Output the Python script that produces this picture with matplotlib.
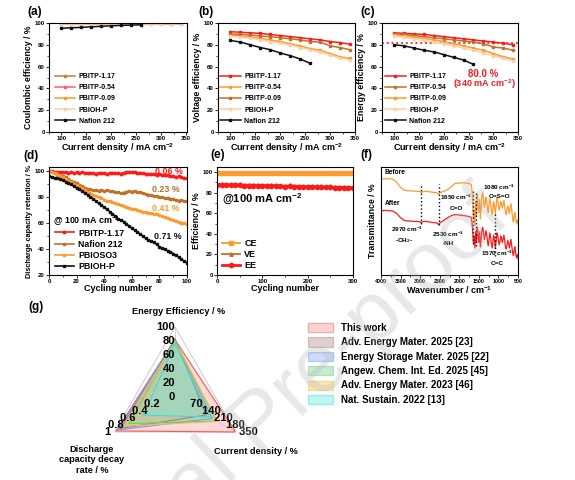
import matplotlib
matplotlib.use('Agg')
import matplotlib.pyplot as plt
import numpy as np
from matplotlib.ticker import AutoMinorLocator, MultipleLocator
from matplotlib.patches import Patch

plt.rcParams['font.family'] = ['Liberation Sans', 'DejaVu Sans']
plt.rcParams['font.weight'] = 'bold'
plt.rcParams['axes.labelweight'] = 'bold'
plt.rcParams['mathtext.fontset'] = 'custom'
plt.rcParams['mathtext.rm'] = 'Liberation Sans:bold'
plt.rcParams['mathtext.default'] = 'regular'

# ---------------- data ----------------
# (a)-(c) rate performance
cd = [100, 120, 140, 160, 180, 200, 220, 240, 260, 280, 300, 320, 340]
cd_naf = [100, 120, 140, 160, 180, 200, 220, 240, 260]

ce_117 = [99.5, 99.5, 99.6, 99.5, 99.5, 99.6, 99.5, 99.6, 99.5, 99.6, 99.6, 99.5, 99.6]
ce_054 = [99.3, 99.4, 99.4, 99.3, 99.4, 99.4, 99.5, 99.4, 99.4, 99.5, 99.4, 99.5, 99.4]
ce_009 = [99.6, 99.6, 99.7, 99.6, 99.6, 99.7, 99.6, 99.7, 99.7, 99.6, 99.7, 99.7, 99.6]
ce_pbioh = [99.1, 99.2, 99.2, 99.3, 99.2, 99.3, 99.3, 99.3, 99.4, 99.3, 99.4, 99.4, 99.4]
ce_naf = [95.2, 95.6, 96.0, 96.5, 97.0, 97.4, 97.8, 98.1, 98.3]

ve_117 = [92.0, 91.5, 91.0, 90.5, 89.5, 88.5, 87.5, 86.5, 85.5, 84.5, 83.0, 82.0, 80.5]
ve_054 = [89.0, 88.0, 87.0, 86.0, 84.5, 83.0, 81.0, 79.0, 76.5, 75.0, 72.0, 69.0, 67.5]
ve_009 = [90.0, 89.5, 89.0, 88.0, 87.5, 86.5, 85.5, 84.5, 83.0, 82.5, 79.0, 77.5, 75.5]
ve_pbioh = [88.0, 87.0, 86.0, 84.5, 83.0, 81.5, 79.5, 77.5, 75.5, 73.0, 70.5, 68.0, 66.0]
ve_naf = [84.0, 82.5, 80.0, 77.5, 75.5, 72.5, 70.0, 67.0, 63.0]

ee_117 = [91.0, 90.5, 90.0, 89.5, 88.5, 87.5, 86.5, 85.5, 84.5, 83.5, 82.5, 81.5, 80.0]
ee_054 = [90.0, 89.5, 88.5, 87.5, 86.5, 85.5, 84.5, 83.5, 82.5, 81.0, 78.0, 77.0, 75.0]
ee_009 = [89.0, 88.0, 87.0, 86.0, 84.5, 83.0, 81.0, 79.0, 77.0, 75.0, 72.0, 69.0, 67.0]
ee_pbioh = [88.0, 87.0, 85.5, 84.0, 82.5, 81.0, 79.0, 77.0, 75.0, 72.5, 70.0, 67.5, 65.0]
ee_naf = [80.0, 79.0, 77.0, 75.0, 73.5, 71.0, 68.5, 66.0, 62.0]
ee_ref = 82

# (d) capacity retention
cyc_d = list(range(0, 101, 2))
ret_117 = [100, 99.6, 99.3, 99.0, 99.4, 98.8, 99.1, 98.6, 98.9, 98.4, 98.8, 98.5, 98.9, 98.3, 98.6, 98.2,
           98.5, 98.0, 98.4, 98.1, 98.5, 97.9, 98.3, 98.6, 98.2, 98.4, 98.0, 98.6, 98.9, 99.2, 98.8, 99.0,
           98.5, 98.7, 98.2, 98.0, 97.6, 97.9, 97.3, 97.0, 97.4, 96.8, 97.1, 96.5, 96.0, 95.8, 95.4, 95.7,
           95.0, 94.6, 94.3]
ret_naf = [100, 99.5, 98.6, 97.8, 97.0, 96.1, 95.0, 93.8, 92.5, 91.6, 90.8, 89.5, 88.4, 87.2, 86.4, 85.8,
           85.2, 85.6, 84.9, 85.3, 84.7, 85.0, 84.3, 84.6, 83.9, 83.5, 83.0, 83.4, 84.0, 84.5, 84.1, 84.6,
           84.0, 83.6, 82.8, 82.2, 81.8, 81.3, 81.0, 80.4, 80.0, 79.6, 79.2, 78.8, 78.1, 78.5, 77.6, 77.2,
           77.5, 76.9, 76.6]
ret_so3 = [100, 99.4, 98.5, 97.4, 96.2, 95.0, 93.8, 92.5, 91.2, 90.0, 88.9, 87.8, 86.6, 85.3, 84.1, 82.8,
           81.6, 80.5, 79.6, 78.8, 78.0, 77.2, 76.5, 75.8, 75.0, 74.3, 73.5, 72.9, 72.4, 71.8, 71.0, 70.4,
           69.9, 69.5, 68.8, 68.3, 67.9, 67.4, 67.0, 66.5, 66.0, 65.1, 64.5, 63.8, 63.0, 62.3, 61.6, 60.9,
           60.2, 59.6, 59.2]
ret_pbioh = [95.8, 95.2, 94.6, 94.9, 93.8, 93.0, 91.7, 90.5, 89.6, 88.2, 87.0, 85.9, 84.4, 83.0, 81.6, 80.0,
             78.5, 76.9, 75.2, 73.6, 72.0, 70.4, 68.7, 67.1, 65.0, 63.2, 62.0, 61.1, 59.4, 57.6, 55.9, 54.5,
             53.0, 51.6, 49.8, 48.2, 46.9, 46.0, 45.1, 43.5, 41.8, 40.6, 39.8, 38.5, 37.6, 36.4, 35.1, 33.8,
             32.0, 30.6, 29.5]
decay_txt = ['0.06 %', '0.23 %', '0.41 %', '0.71 %']

# (e) long cycling
cyc_e = list(range(0, 301, 10))
e_ce = [99.2, 99.3, 99.2, 99.4, 99.3, 99.2, 99.3, 99.4, 99.3, 99.2, 99.3, 99.3, 99.4, 99.2, 99.3, 99.3,
        99.2, 99.4, 99.3, 99.3, 99.2, 99.3, 99.4, 99.3, 99.2, 99.3, 99.3, 99.4, 99.3, 99.2, 99.3]
e_ve = [88.6, 88.5, 88.4, 88.2, 88.3, 88.0, 87.9, 87.8, 87.9, 87.6, 87.5, 87.4, 87.5, 87.2, 87.0, 86.9,
        87.1, 86.8, 86.7, 86.6, 86.4, 86.5, 86.3, 86.2, 86.0, 86.1, 85.9, 85.7, 85.8, 85.5, 85.4]
e_ee = [87.8, 87.7, 87.5, 87.4, 87.5, 87.2, 87.0, 86.9, 87.0, 86.8, 86.6, 86.5, 86.6, 86.3, 86.1, 86.0,
        86.2, 85.9, 85.8, 85.7, 85.5, 85.6, 85.4, 85.3, 85.1, 85.2, 85.0, 84.8, 84.9, 84.6, 84.5]

# (f) FTIR
wn = [4000, 3900, 3800, 3700, 3600, 3500, 3400, 3300, 3200, 3100, 3000, 2970, 2940, 2850, 2750, 2650,
      2560, 2530, 2500, 2400, 2300, 2200, 2100, 2000, 1900, 1800, 1740] + list(range(1700, 499, -20))
ir_before = [89, 89, 89.2, 88.8, 86, 81, 78.5, 78, 77.8, 77.5, 77.2, 75.8, 77, 77.5, 77, 76.5,
             76, 74.5, 76, 77.5, 79, 82, 85, 85, 85.5, 85, 84.5,
             84, 80, 70, 52, 60, 46, 68, 55, 75, 66, 58, 70, 52, 62, 74, 76, 70, 63, 66, 72, 69, 62, 58,
             65, 71, 67, 60, 56, 62, 68, 63, 56, 63, 72, 70, 64, 60, 63, 68, 66, 62, 65, 69, 64, 58, 56,
             60, 64, 61, 57, 62, 66, 60, 53, 49, 54, 58, 52, 48, 51, 47]
ir_after = [59.5, 59.8, 59.6, 59.2, 57, 53, 50.5, 50, 49.8, 49.5, 49.3, 48, 49.5, 49.6, 49, 48.5,
            48, 46.5, 48, 50.5, 53, 55, 56, 55.5, 55, 54.5, 54,
            53.5, 50, 42, 30, 36, 25, 40, 30, 44, 38, 30, 40, 26, 34, 42, 44, 39, 33, 36, 41, 38, 31, 27,
            33, 39, 35, 29, 25, 31, 37, 32, 25, 31, 39, 37, 32, 28, 31, 36, 34, 30, 33, 37, 32, 26, 24,
            28, 32, 29, 25, 29, 33, 27, 21, 18, 23, 26, 20, 16, 19, 15]
peak_wn = [2970, 2530, 1650, 1570, 1080]
peak_lo = [47.5, 46, 29, 27, 18]
peak_hi = [83, 84, 78, 78, 58]

# (g) radar
radar_names = ['This work', 'Adv. Energy Mater. 2025 [23]', 'Energy Storage Mater. 2025 [22]',
               'Angew. Chem. Int. Ed. 2025 [45]', 'Adv. Energy Mater. 2023 [46]', 'Nat. Sustain. 2022 [13]']
radar_ee = [82, 83, 81, 80, 78, 76]
radar_cd = [350, 180, 215, 240, 245, 200]
radar_decay = [0.97, 0.90, 0.94, 0.76, 0.83, 0.52]
radar_edge = ['#ff5555', '#a88080', '#6f9ff0', '#5fcf85', '#f2c030', '#30e0e0']
radar_fill = ['#ff9d9d', '#b89898', '#8fb4f2', '#7fd49c', '#f5cf6a', '#70ecec']
ee_ticks = [0, 20, 40, 60, 80, 100]
cd_ticks = [70, 140, 210, 280, 350]
cd_tick_text = ['70', '140', '210', '180', '350']
decay_ticks = [0.2, 0.4, 0.6, 0.8, 1]

RED = '#ff1a1a'
ORANGE = '#ff9a2e'
BROWN = '#c0702a'
PEACH = '#ffd0a6'
BLACK = '#111111'

W, H = 575, 480
fig = plt.figure(figsize=(W / 100, H / 100), dpi=100)


def rect(l, t, r, b):
    return [l / W, 1 - b / H, (r - l) / W, (b - t) / H]


def style(ax):
    for s in ax.spines.values():
        s.set_linewidth(0.8)
    ax.tick_params(which='major', length=2, width=0.6, labelsize=4.3, pad=1)
    ax.tick_params(which='minor', length=1.2, width=0.5)
    ax.xaxis.set_minor_locator(AutoMinorLocator(2))
    ax.yaxis.set_minor_locator(AutoMinorLocator(2))


def leg(ax, x, y, fs, hl=3.0, ls=0.6):
    ax.legend(loc='upper left', bbox_to_anchor=(x, y), frameon=False, fontsize=fs, handlelength=hl,
              handletextpad=0.5, labelspacing=ls, borderpad=0, borderaxespad=0)


cd_label = 'Current density / mA cm$^{-2}$'
lk = dict(lw=1.1, marker='s', ms=2.0)

# ---- (a)
ax = fig.add_axes(rect(49, 23, 187, 132))
ax.plot(cd, ce_117, color='#cd7a3a', label='PBITP-1.17', **lk)
ax.plot(cd, ce_054, color='#ff5a6a', label='PBITP-0.54', **lk)
ax.plot(cd, ce_009, color=ORANGE, label='PBITP-0.09', **lk)
ax.plot(cd, ce_pbioh, color=PEACH, label='PBIOH-P', **lk)
ax.plot(cd_naf, ce_naf, color=BLACK, label='Nafion 212', **lk)
ax.set_xlim(75, 352)
ax.set_ylim(0, 100)
ax.xaxis.set_major_locator(MultipleLocator(50))
ax.yaxis.set_major_locator(MultipleLocator(20))
style(ax)
ax.set_xlabel(cd_label, fontsize=6.5, labelpad=0)
ax.set_ylabel('Coulombic efficiency / %', fontsize=6.3, labelpad=1)
leg(ax, 0.04, 0.54, 5.0)

# ---- (b)
ax = fig.add_axes(rect(218, 23, 355, 132))
ax.plot(cd, ve_117, color=RED, label='PBITP-1.17', **lk)
ax.plot(cd, ve_054, color=ORANGE, label='PBITP-0.54', **lk)
ax.plot(cd, ve_009, color=BROWN, label='PBITP-0.09', **lk)
ax.plot(cd, ve_pbioh, color=PEACH, label='PBIOH-P', **lk)
ax.plot(cd_naf, ve_naf, color=BLACK, label='Nafion 212', **lk)
ax.set_xlim(75, 350)
ax.set_ylim(0, 100)
ax.xaxis.set_major_locator(MultipleLocator(50))
ax.yaxis.set_major_locator(MultipleLocator(20))
style(ax)
ax.set_xlabel(cd_label, fontsize=6.5, labelpad=0)
ax.set_ylabel('Voltage efficiency / %', fontsize=6.3, labelpad=1)
leg(ax, 0.015, 0.54, 5.0)

# ---- (c)
ax = fig.add_axes(rect(382, 23, 518, 132))
ax.axhline(ee_ref, color=RED, ls=':', lw=1.3)
ax.plot(cd, ee_117, color=RED, label='PBITP-1.17', **lk)
ax.plot(cd, ee_054, color=BROWN, label='PBITP-0.54', **lk)
ax.plot(cd, ee_009, color=ORANGE, label='PBITP-0.09', **lk)
ax.plot(cd, ee_pbioh, color=PEACH, label='PBIOH-P', **lk)
ax.plot(cd_naf, ee_naf, color=BLACK, label='Nafion 212', **lk)
ax.text(280, 53, '80.0 %', color=RED, fontsize=7, ha='center', va='center')
ax.text(282, 44, '(340 mA cm$^{-2}$)', color=RED, fontsize=6.5, ha='center', va='center')
ax.set_xlim(75, 350)
ax.set_ylim(0, 100)
ax.xaxis.set_major_locator(MultipleLocator(50))
ax.yaxis.set_major_locator(MultipleLocator(20))
style(ax)
ax.set_xlabel(cd_label, fontsize=6.5, labelpad=0)
ax.set_ylabel('Energy efficiency / %', fontsize=6.3, labelpad=1)
leg(ax, 0.02, 0.54, 5.0)

# ---- (d)
ax = fig.add_axes(rect(49, 167, 187, 275))
dk = dict(lw=1.2, ms=1.8)
ax.plot(cyc_d, ret_117, color=RED, marker='o', label='PBITP-1.17', **dk)
ax.plot(cyc_d, ret_naf, color=BROWN, marker='s', label='Nafion 212', **dk)
ax.plot(cyc_d, ret_so3, color=ORANGE, marker='s', label='PBIOSO3', **dk)
ax.plot(cyc_d, ret_pbioh, color=BLACK, marker='s', label='PBIOH-P', **dk)
for txt, (xx, yy), c in zip(decay_txt, [(87, 99.5), (85, 86), (85, 71), (86, 49.5)],
                            [RED, BROWN, ORANGE, BLACK]):
    ax.text(xx, yy, txt, color=c, fontsize=6.4, ha='center', va='center')
ax.text(3, 61, '@ 100 mA cm$^{-2}$', fontsize=6.4, ha='left', va='center')
ax.set_xlim(0, 100)
ax.set_ylim(20, 103)
ax.xaxis.set_major_locator(MultipleLocator(20))
ax.yaxis.set_major_locator(MultipleLocator(20))
style(ax)
ax.set_xlabel('Cycling number', fontsize=6.5, labelpad=0)
ax.set_ylabel('Discharge capacity retention / %', fontsize=5.3, labelpad=1)
leg(ax, 0.04, 0.43, 6.3, hl=2.2, ls=0.25)

# ---- (e)
ax = fig.add_axes(rect(217, 167, 353, 275))
ax.plot(cyc_e, e_ce, color=ORANGE, marker='s', lw=1.3, ms=2.5, label='CE')
ax.plot(cyc_e, e_ve, color=BROWN, marker='^', lw=1.3, ms=2.5, label='VE')
ax.plot(cyc_e, e_ee, color=RED, marker='o', lw=2.0, ms=3.0, label='EE')
ax.text(11, 73, '@100 mA cm$^{-2}$', fontsize=8, ha='left', va='center')
ax.set_xlim(0, 300)
ax.set_ylim(0, 105)
ax.xaxis.set_major_locator(MultipleLocator(100))
ax.yaxis.set_major_locator(MultipleLocator(20))
style(ax)
ax.set_xlabel('Cycling number', fontsize=6.5, labelpad=0)
ax.set_ylabel('Efficiency / %', fontsize=6.3, labelpad=1)
leg(ax, 0.035, 0.33, 6.5, hl=2.0, ls=0.2)

# ---- (f)
ax = fig.add_axes(rect(381, 167, 518, 275))
ax.plot(wn, ir_before, color=ORANGE, lw=0.9)
ax.plot(wn, ir_after, color=RED, lw=0.9)
ax.vlines(peak_wn, peak_lo, peak_hi, colors='k', linestyles=':', lw=1.0)
fk = dict(fontsize=4.6, ha='center', va='center')
ax.text(3900, 95, 'Before', ha='left', va='center', fontsize=4.8)
ax.text(3900, 66, 'After', ha='left', va='center', fontsize=4.8)
ax.text(3334, 42, '2970 cm$^{-1}$', **fk)
ax.text(3420, 32, '-CH$_2$-', **fk)
ax.text(2290, 37.5, '2530 cm$^{-1}$', **fk)
ax.text(2290, 29, '-NH', **fk)
ax.text(2080, 72, '1650 cm$^{-1}$', **fk)
ax.text(2080, 62, 'C=O', **fk)
ax.text(980, 81, '1080 cm$^{-1}$', **fk)
ax.text(980, 72.5, 'O=S=O', **fk)
ax.text(1030, 20, '1570 cm$^{-1}$', **fk)
ax.text(1030, 11, 'C=C', **fk)
ax.set_xlim(4000, 500)
ax.set_ylim(0, 100)
ax.xaxis.set_major_locator(MultipleLocator(500))
style(ax)
ax.set_yticks([])
ax.tick_params(axis='x', labelsize=3.8)
ax.set_xlabel('Wavenumber / cm$^{-1}$', fontsize=6.5, labelpad=0)
ax.set_ylabel('Transmittance / %', fontsize=6.3, labelpad=3)

# ---- (g) radar
cx, cy, R = 175, 397, 70
ax = fig.add_axes(rect(cx - R, cy - R, cx + R, cy + R), polar=True)
theta = np.deg2rad([90, 330, 210])
ax.set_ylim(0, 1)
ax.axis('off')
ax.plot(np.append(theta, theta[0]), [1, 1, 1, 1], color='#d0d0d0', lw=0.8)
for t in theta:
    ax.plot([t, t], [0, 1], color='#d0d0d0', lw=0.6)
for i in range(len(radar_names)):
    r = [radar_ee[i] / 100, radar_cd[i] / 350, radar_decay[i] / 1]
    ax.fill(np.append(theta, theta[0]), r + [r[0]], facecolor=radar_fill[i], alpha=0.38,
            edgecolor='none', zorder=2)
    ax.plot(np.append(theta, theta[0]), r + [r[0]], color=radar_edge[i], lw=0.8, zorder=3)
for v in ee_ticks:
    ax.text(theta[0], v / 100, str(v), fontsize=8, ha='right', va='center', zorder=5)
for v, s in zip(cd_ticks, cd_tick_text):
    ax.text(theta[1], v / 350, ' ' + s, fontsize=8, ha='left', va='center', zorder=5)
for v in decay_ticks:
    ax.text(theta[2], v / 1, str(v) + ' ', fontsize=8, ha='right', va='center', zorder=5)

fig.text(179 / W, 1 - 312 / H, 'Energy Efficiency / %', fontsize=6.6, ha='center', va='center')
fig.text(256 / W, 1 - 451 / H, 'Current density / %', fontsize=6.6, ha='center', va='center')
fig.text(92 / W, 1 - 460 / H, 'Discharge\ncapacity decay\nrate / %', fontsize=6.6, ha='center',
         va='center', linespacing=1.15)

handles = [Patch(facecolor=f, edgecolor=e, lw=0.9, alpha=0.45) for f, e in zip(radar_fill, radar_edge)]
fig.legend(handles, radar_names, loc='upper left', bbox_to_anchor=(308 / W, 1 - 323 / H), frameon=False,
           fontsize=7, handlelength=2.6, handleheight=1.1, labelspacing=0.45, handletextpad=0.8,
           borderpad=0, borderaxespad=0)

# panel letters
for lab, (x, y) in zip('abcdefg', [(27, 12), (198, 12), (360, 12), (23, 156), (210, 155), (360, 155),
                                   (28, 307)]):
    fig.text(x / W, 1 - y / H, '(%s)' % lab, fontsize=8.5, ha='left', va='center')

# watermark
fig.text(262 / W, 1 - 424 / H, 'Journal Pre-proof', fontsize=60, rotation=43, color='#b4b4b4', alpha=0.3,
         ha='center', va='center', weight='normal', zorder=10)

fig.savefig('out.png', dpi=100)
